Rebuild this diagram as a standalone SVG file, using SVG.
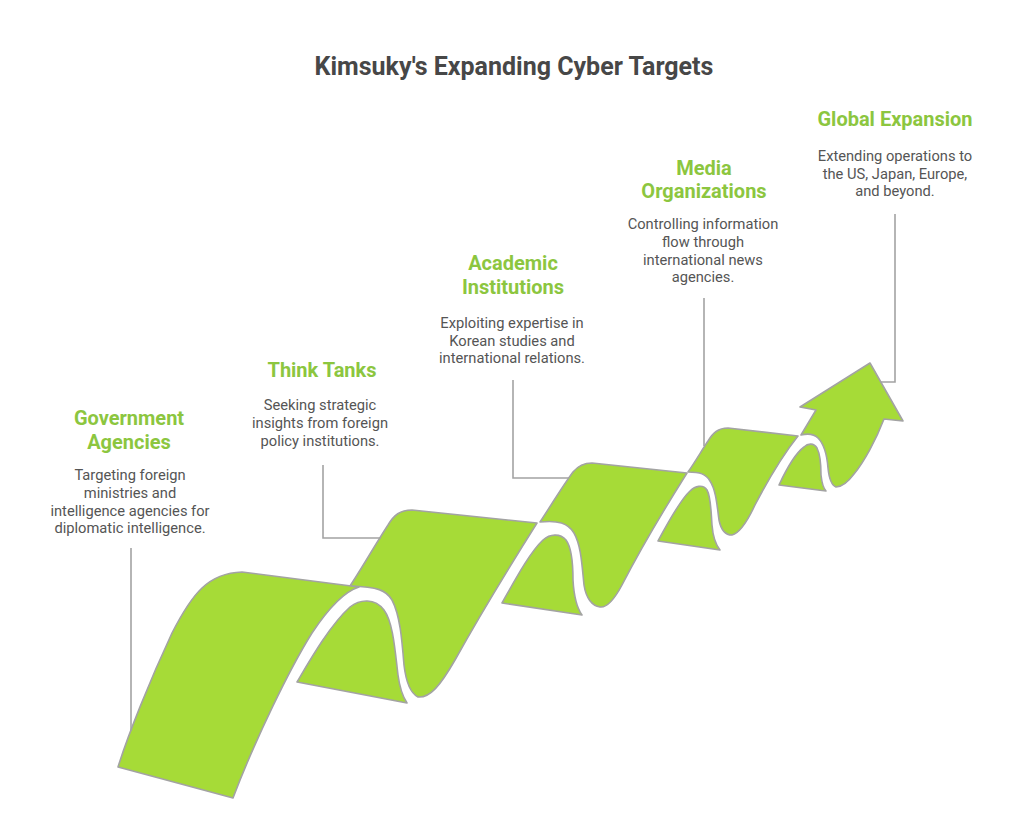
<svg xmlns="http://www.w3.org/2000/svg" width="1024" height="821" viewBox="0 0 1024 821">
<style>
.rib{fill:#A6DB37;stroke:#A3A3A3;stroke-width:1.6;stroke-linejoin:round}
.con{fill:none;stroke:#A3A3A3;stroke-width:1.6}
.title{font-family:Roboto,"Liberation Sans",sans-serif;font-weight:bold;font-size:25px;fill:#474747;text-anchor:middle}
.lbl{font-family:Roboto,"Liberation Sans",sans-serif;font-weight:bold;font-size:20px;fill:#8CC63F;text-anchor:middle}
.desc{font-family:Roboto,"Liberation Sans",sans-serif;font-size:14.7px;fill:#555555;text-anchor:middle}
</style>
<rect width="1024" height="821" fill="#ffffff"/>
<text class="title" x="514" y="75">Kimsuky's Expanding Cyber Targets</text>

<g id="ribbon">
  <path id="flapB" class="rib" d="M297,682 C310,660 330,625 350,607 C360,599 375,598 384,610 C393,622 395,650 398,675 C400,690 403,697 407,703 Z"/>
  <path id="flapC" class="rib" d="M502,603 C515,580 530,552 543,540 C550,534 560,533 566,540 C572,548 573,565 573,580 C574,598 577,608 582,615 Z"/>
  <path id="flapD" class="rib" d="M658,541 C665,528 680,500 690,491 C695,486 703,484 707,490 C711,497 711,512 712,525 C713,538 716,545 720,550 Z"/>
  <path id="flapE" class="rib" d="M779,485 C786,470 796,453 804,447 C808,443 814,443 817,448 C820,454 821,465 821,475 C822,484 823,488 826,491 Z"/>
  <path id="bandE" class="rib" d="M801,435 L816,410 L800,407 L870,363 L903,421 L884,419 C876,440 864,462 854,474 C848,482 842,487 836,487 C831,485 829,478 828,468 C827,455 824,444 818,438 C814,434 809,433 801,435 Z"/>
  <path id="bandD" class="rib" d="M688,472 C695,462 702,450 708,441 C713,433 718,428 728,428 L798,436 C786,451 768,480 755,505 C748,520 740,533 732,535 C726,535 721,530 719,520 C717,505 716,490 710,481 C706,474 700,472 688,472 Z"/>
  <path id="bandC" class="rib" d="M540,522 C550,507 562,487 573,472 C578,466 583,463 592,463 L687,473 C670,500 640,550 622,585 C614,600 607,608 600,607 C592,606 586,598 584,585 C582,565 581,545 574,533 C568,523 558,520 540,522 Z"/>
  <path id="bandB" class="rib" d="M350,586 C362,568 375,545 388,525 C394,515 400,510 412,510 L537,523 C520,550 480,615 455,660 C440,686 430,698 418,697 C410,693 406,682 404,665 C402,640 400,615 392,600 C386,590 378,587 350,586 Z"/>
  <path id="bandA" class="rib" d="M118,767 C128,735 150,680 172,633 C192,594 208,573 242,572 L359,587 C346,591 330,606 312,633 C290,668 255,740 233,798 Z"/>
</g>

<g id="connectors">
  <path class="con" d="M131,548 V731"/>
  <path class="con" d="M323,465 V538 H381"/>
  <path class="con" d="M513,380 V478 H569"/>
  <path class="con" d="M704,298 V446"/>
  <path class="con" d="M895,214 V382 H881"/>
</g>

<g id="node-government">
  <text class="lbl" x="129" y="425">Government</text>
  <text class="lbl" x="129" y="449">Agencies</text>
  <text class="desc" x="130" y="480">Targeting foreign</text>
  <text class="desc" x="130" y="498">ministries and</text>
  <text class="desc" x="130" y="515.5">intelligence agencies for</text>
  <text class="desc" x="130" y="533">diplomatic intelligence.</text>
</g>
<g id="node-thinktanks">
  <text class="lbl" x="322" y="377">Think Tanks</text>
  <text class="desc" x="320" y="410">Seeking strategic</text>
  <text class="desc" x="320" y="428">insights from foreign</text>
  <text class="desc" x="320" y="446">policy institutions.</text>
</g>
<g id="node-academic">
  <text class="lbl" x="513" y="270">Academic</text>
  <text class="lbl" x="513" y="294">Institutions</text>
  <text class="desc" x="512" y="328">Exploiting expertise in</text>
  <text class="desc" x="512" y="346">Korean studies and</text>
  <text class="desc" x="512" y="363">international relations.</text>
</g>
<g id="node-media">
  <text class="lbl" x="704" y="175">Media</text>
  <text class="lbl" x="704" y="198">Organizations</text>
  <text class="desc" x="703" y="229">Controlling information</text>
  <text class="desc" x="703" y="247">flow through</text>
  <text class="desc" x="703" y="265">international news</text>
  <text class="desc" x="703" y="282">agencies.</text>
</g>
<g id="node-global">
  <text class="lbl" x="895" y="126">Global Expansion</text>
  <text class="desc" x="895" y="161">Extending operations to</text>
  <text class="desc" x="895" y="179">the US, Japan, Europe,</text>
  <text class="desc" x="895" y="196">and beyond.</text>
</g>
</svg>
